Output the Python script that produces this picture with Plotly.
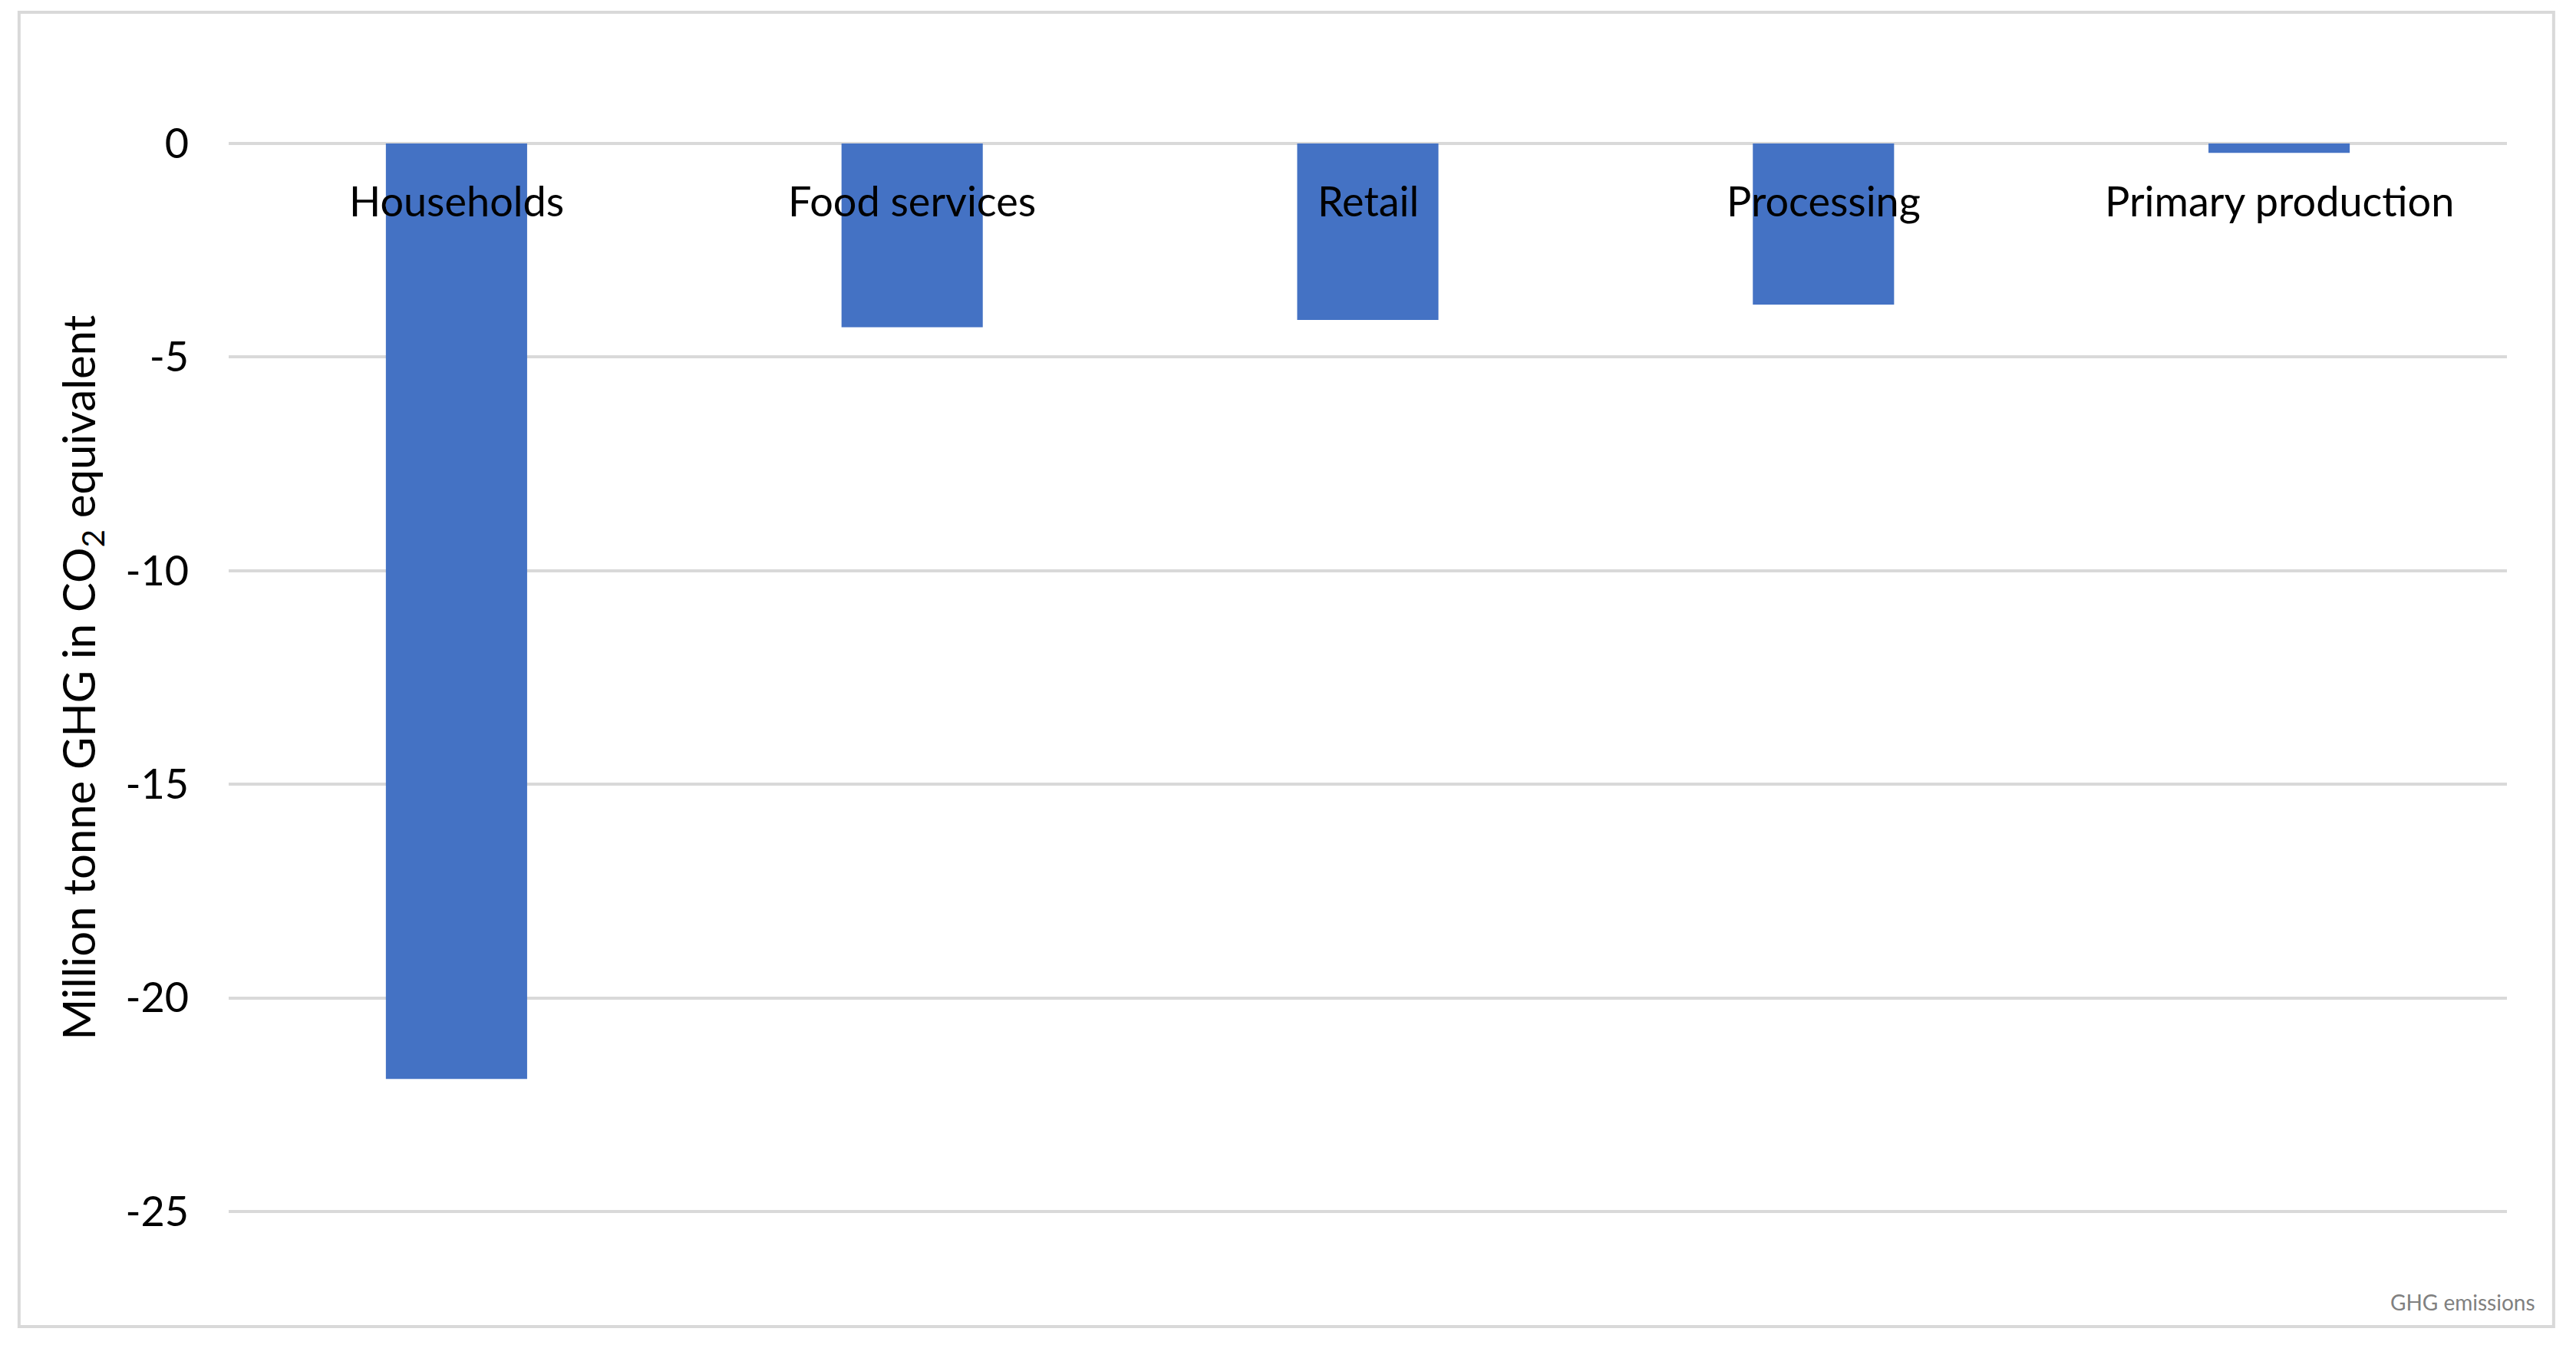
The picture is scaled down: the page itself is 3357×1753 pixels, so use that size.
"""Food waste GHG emissions by supply chain stage (Excel-style column chart)."""

import plotly.graph_objects as go

# data
stages = ["Households", "Food services", "Retail", "Processing", "Primary production"]
ghg_mt = [-21.9, -4.3, -4.13, -3.77, -0.22]
y_ticks = [0, -5, -10, -15, -20, -25]

FONT = "Lato"
BAR = "#4472C4"
GRID = "#D9D9D9"

fig = go.Figure()

fig.add_trace(go.Bar(
    x=stages,
    y=ghg_mt,
    marker_color=BAR,
    marker_line_width=0,
    hovertemplate="%{x}: %{y:.1f}<extra></extra>",
))

# category names sit just under the zero line, as in Excel ("next to axis")
for stage in stages:
    fig.add_annotation(
        x=stage, y=0, xref="x", yref="y",
        text=stage,
        showarrow=False,
        yanchor="middle",
        yshift=-74,
        font=dict(family=FONT, size=54, color="black"),
    )

# outer chart frame, like the Excel chart area border
fig.add_shape(
    type="rect", xref="paper", yref="paper",
    x0=-0.092, x1=1.0205, y0=-0.1069, y1=1.122,
    line=dict(color=GRID, width=4),
    fillcolor="rgba(0,0,0,0)",
    layer="below",
)

fig.add_annotation(
    text="GHG emissions",
    xref="paper", yref="paper",
    x=1.0131, y=-0.0839,
    xanchor="right", yanchor="middle",
    showarrow=False,
    font=dict(family=FONT, size=28, color="#808080"),
)

# page body has an 8px margin, so the figure is a bit smaller than the window
fig.update_layout(
    width=3349,
    height=1745,
    paper_bgcolor="white",
    plot_bgcolor="white",
    showlegend=False,
    bargap=0.69,
    margin=dict(l=290, r=90, t=178, b=173, autoexpand=False),
    font=dict(family=FONT, size=54, color="black"),
    xaxis=dict(
        type="category",
        showticklabels=False,
        ticks="",
        showgrid=False,
        showline=False,
        zeroline=False,
    ),
    yaxis=dict(
        range=[-25.02, 0.02],
        tickvals=y_ticks,
        ticktext=[str(v) for v in y_ticks],
        showgrid=True,
        gridcolor=GRID,
        gridwidth=4,
        zeroline=False,
        showline=False,
        ticks="outside",
        ticklen=40,
        tickcolor="rgba(0,0,0,0)",
        tickfont=dict(family=FONT, size=54, color="black"),
        title=dict(
            text="Million tonne GHG in CO<sub>2</sub> equivalent",
            font=dict(family=FONT, size=58, color="black"),
            standoff=20,
        ),
    ),
)

fig.write_html("out.html")
